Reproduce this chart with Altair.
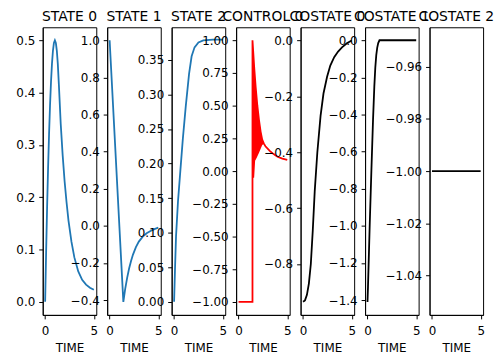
import altair as alt
import pandas as pd

# ---- data ----
titles = ["STATE 0", "STATE 1", "STATE 2", "CONTROL 0", "COSTATE 0", "COSTATE 1", "COSTATE 2"]

s0_t = [0, 0.1, 0.2, 0.3, 0.4, 0.5, 0.6, 0.7, 0.8, 0.9, 1.0, 1.1, 1.2, 1.3, 1.41,
        1.6, 1.8, 2.0, 2.2, 2.4, 2.7, 3.0, 3.4, 3.8, 4.2, 4.6, 5.0]
s0_v = [0, 0.095, 0.18, 0.255, 0.32, 0.375, 0.42, 0.455, 0.48, 0.495, 0.5, 0.495, 0.48, 0.455, 0.415,
        0.34, 0.28, 0.23, 0.19, 0.155, 0.115, 0.085, 0.058, 0.042, 0.033, 0.027, 0.023]

s1_t = [0, 1.41, 1.6, 1.8, 2.0, 2.2, 2.4, 2.7, 3.0, 3.4, 3.8, 4.2, 4.6, 5.0]
s1_v = [1.0, -0.41, -0.34, -0.28, -0.23, -0.19, -0.155, -0.115, -0.085, -0.058, -0.04, -0.028, -0.018, -0.01]

s2_t = [0, 0.1, 0.2, 0.4, 0.64, 0.9, 1.2, 1.54, 1.8, 2.1, 2.5, 3.0, 4.0, 5.0]
s2_v = [0, 0.05, 0.095, 0.145, 0.189, 0.236, 0.283, 0.33, 0.355, 0.368, 0.375, 0.378, 0.379, 0.379]

u_t = [0, 1.43, 1.43, 1.6, 1.76, 1.93, 2.1, 2.27, 2.43, 2.6, 2.76, 3.2, 3.6, 4.0, 4.5, 5.0]
u_v = [-1, -1, 1.0, 0.8, 0.64, 0.5, 0.39, 0.3, 0.24, 0.21, 0.19, 0.155, 0.13, 0.11, 0.095, 0.085]
# chattering band of the control (envelopes)
band_t = [1.43, 1.6, 1.7, 1.85, 2.1, 2.43, 2.6]
band_hi = [1.0, 0.8, 0.7, 0.55, 0.39, 0.24, 0.21]
band_lo = [-0.05, -0.05, 0.08, 0.1, 0.14, 0.2, 0.21]

c0_t = [0, 0.2, 0.4, 0.6, 0.8, 1.0, 1.2, 1.47, 1.8, 2.1, 2.47, 2.8, 3.2, 3.6, 4.0, 4.5, 5.0]
c0_v = [-0.935, -0.93, -0.91, -0.87, -0.80, -0.68, -0.54, -0.40, -0.27, -0.19, -0.13, -0.09, -0.06, -0.04, -0.025, -0.01, 0.0]

c1_t = [0, 0.05, 0.23, 0.4, 0.57, 0.7, 0.8, 0.9, 1.0, 1.1, 1.23, 2.0, 3.0, 4.0, 5.0]
c1_v = [-1.41, -1.33, -0.99, -0.70, -0.425, -0.25, -0.148, -0.08, -0.04, -0.015, 0.0, 0.0, 0.0, 0.0, 0.0]

c2_t = [0, 5.0]
c2_v = [-1.0, -1.0]

x_ticks = [0, 5]
y_ticks = [
    [0, 0.1, 0.2, 0.3, 0.4, 0.5],
    [-0.4, -0.2, 0, 0.2, 0.4, 0.6, 0.8, 1.0],
    [0, 0.05, 0.1, 0.15, 0.2, 0.25, 0.3, 0.35],
    [-1.0, -0.75, -0.5, -0.25, 0, 0.25, 0.5, 0.75, 1.0],
    [-0.8, -0.6, -0.4, -0.2, 0],
    [-1.4, -1.2, -1.0, -0.8, -0.6, -0.4, -0.2, 0],
    [-1.04, -1.02, -1.0, -0.98, -0.96],
]
y_formats = [".1f", ".1f", ".2f", ".2f", ".1f", ".1f", ".2f"]
y_domains = [
    [-0.025, 0.525],
    [-0.48, 1.07],
    [-0.0189, 0.397],
    [-1.1, 1.1],
    [-0.982, 0.047],
    [-1.48, 0.07],
    [-1.055, -0.945],
]
series = [(s0_t, s0_v), (s1_t, s1_v), (s2_t, s2_v), (u_t, u_v), (c0_t, c0_v), (c1_t, c1_v), (c2_t, c2_v)]
colors = ["#1f77b4", "#1f77b4", "#1f77b4", "#ff0000", "#000000", "#000000", "#000000"]

FONT = "DejaVu Sans"
W, H = 54, 290


def xenc():
    return alt.X("t:Q", scale=alt.Scale(domain=[-0.25, 5.25], nice=False, zero=False),
                 axis=alt.Axis(values=x_ticks, title="TIME", format="d",
                               labelPadding=7, titlePadding=6))


def yenc(i, field="v"):
    return alt.Y(f"{field}:Q", scale=alt.Scale(domain=y_domains[i], nice=False, zero=False),
                 axis=alt.Axis(values=y_ticks[i], format=y_formats[i], title=None,
                               labelPadding=4))


panels = []
for i, (tt, vv) in enumerate(series):
    df = pd.DataFrame({"t": tt, "v": vv})
    line = alt.Chart(df).mark_line(color=colors[i], strokeWidth=1.8).encode(
        x=xenc(), y=yenc(i), order=alt.Order("idx:Q")
    ).transform_window(idx="row_number()")
    if i == 3:
        bdf = pd.DataFrame({"t": band_t, "lo": band_lo, "hi": band_hi})
        band = alt.Chart(bdf).mark_area(color=colors[i], opacity=1).encode(
            x=xenc(), y=yenc(i, "lo"), y2="hi:Q"
        )
        ch = alt.layer(band, line)
    else:
        ch = line
    ch = ch.properties(width=W, height=H,
                       title=alt.TitleParams(titles[i], fontSize=14, font=FONT,
                                             fontWeight="normal", color="black", offset=3))
    panels.append(ch)

chart = alt.hconcat(*panels, spacing=11, bounds="flush").properties(
    padding={"left": 7, "top": 0, "right": 0, "bottom": 0}
).configure_axis(
    labelFont=FONT, titleFont=FONT, labelFontSize=12, titleFontSize=12,
    titleFontWeight="normal", labelColor="black", titleColor="black",
    tickColor="black", domainColor="black", tickSize=4,
    grid=False, domainWidth=1, tickWidth=1,
).configure_view(stroke="black", strokeWidth=1)

chart.save("out.html", embed_options={"renderer": "svg", "actions": False})
